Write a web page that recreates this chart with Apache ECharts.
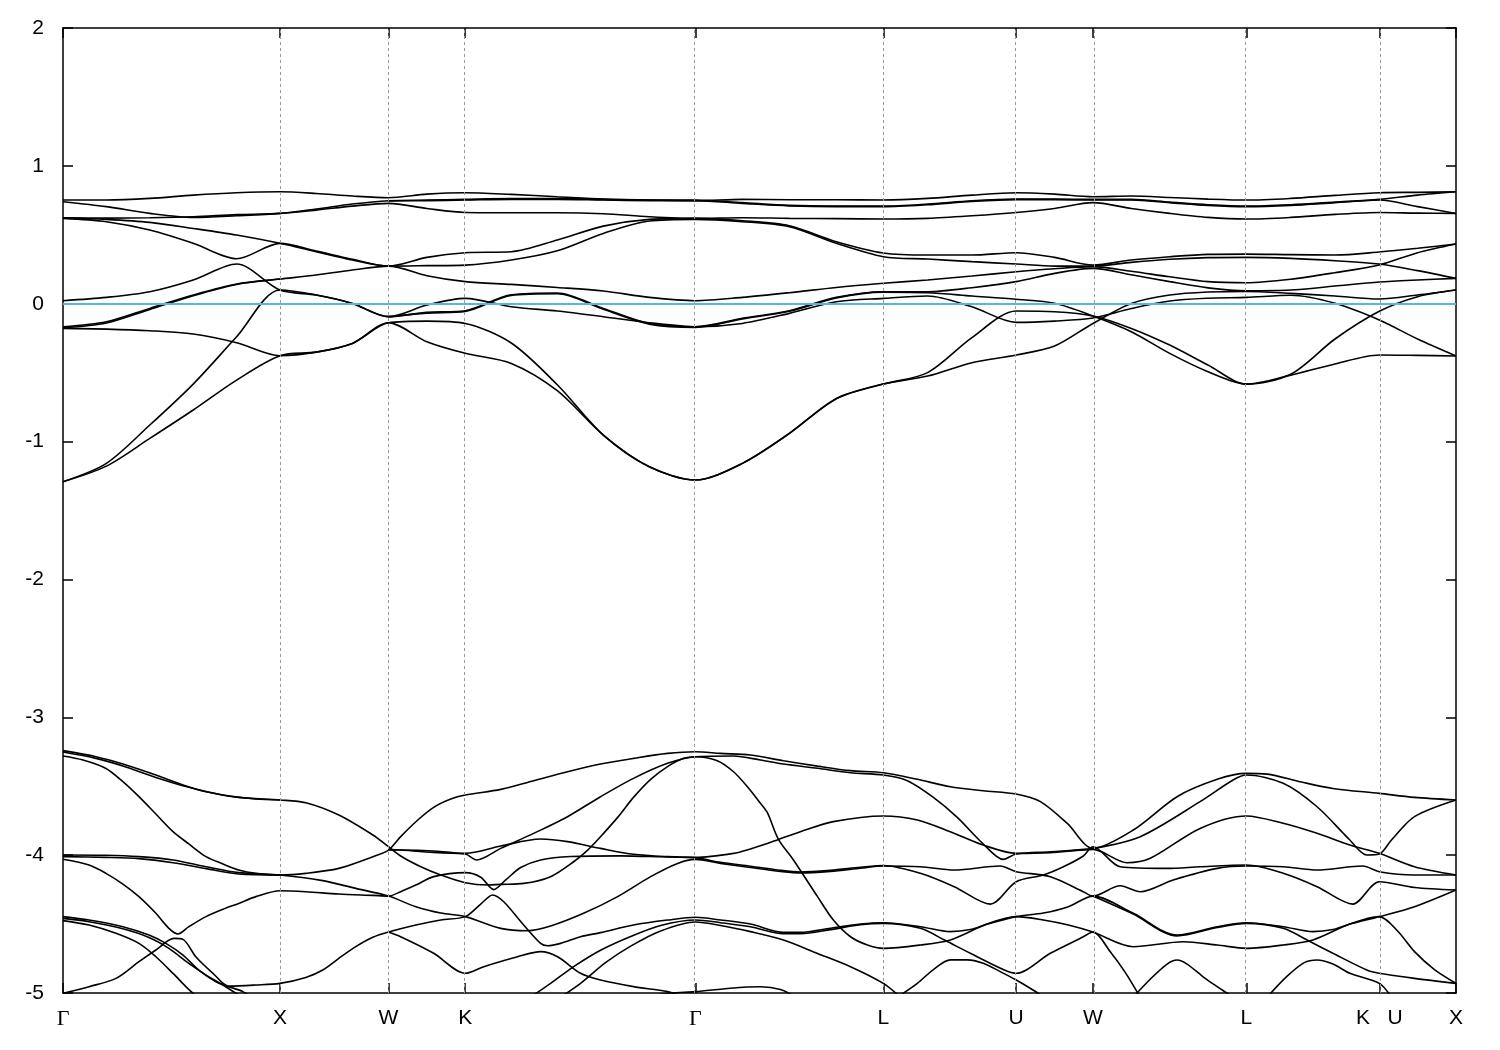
<!DOCTYPE html>
<html><head><meta charset="utf-8">
<script src="https://cdn.jsdelivr.net/npm/echarts@6/dist/echarts.min.js"></script>
<style>html,body{margin:0;padding:0;background:#fff}#c{width:1500px;height:1050px}</style>
</head><body><div id="c"></div>
<script>
// high-symmetry points along the k-path
const kSym = [0, 1, 1.5, 1.8536, 2.9142, 3.7802, 4.3926, 4.7462, 5.4533, 6.0657, 6.4193];
const symLabels = ['Γ', 'X', 'W', 'K', 'Γ', 'L', 'U', 'W', 'L', 'K   U', 'X'];
const yTicks = [-5, -4, -3, -2, -1, 0, 1, 2];
const fermi = 0;

// k-grid used for the bands near the Fermi level
const kGrid = [0,0.2,0.4,0.6,0.8,1,1.1667,1.3333,1.5,1.6768,1.8536,2.0657,2.2778,2.4899,2.7021,2.9142,3.1307,3.3472,3.5637,3.7802,3.9843,4.1885,4.3926,4.5694,4.7462,4.923,5.0998,5.2765,5.4533,5.6574,5.8616,6.0657,6.2425,6.4193];

const U1 = [0.752,0.752,0.764,0.788,0.805,0.812,0.800,0.781,0.769, 0.795,0.805,0.793,0.776,0.759,0.752,0.747, 0.757,0.754,0.754,0.752,0.764,0.788,0.805,0.795,0.776, 0.781,0.771,0.759,0.752,0.764,0.786,0.805,0.808,0.812];
const U2 = [0.740,0.704,0.655,0.626,0.638,0.655,0.687,0.723,0.747, 0.752,0.757,0.762,0.762,0.757,0.752,0.752, 0.733,0.713,0.708,0.708,0.723,0.747,0.759,0.759,0.757, 0.757,0.737,0.718,0.708,0.718,0.737,0.757,0.788,0.812];
const U2b = [null,null,null,null,null,null,null,null,0.745, 0.748,0.752,0.757,0.757,0.752,0.748,0.748, 0.728,0.710,0.704,0.704,0.718,0.742,0.755,0.755,0.752, 0.752,0.733,0.713,0.704,0.713,0.733,0.752,0.704,0.655];
const U3 = [0.624,0.621,0.624,0.631,0.646,0.655,0.679,0.708,0.728, 0.691,0.662,0.660,0.660,0.653,0.631,0.619, 0.624,0.619,0.617,0.614,0.619,0.638,0.662,0.691,0.733, 0.691,0.655,0.626,0.614,0.626,0.648,0.662,0.657,0.655];
const U4 = [0.624,0.612,0.590,0.546,0.498,0.438,0.377,0.317,0.273, 0.336,0.370,0.377,0.462,0.563,0.612,0.619, 0.602,0.566,0.450,0.368,0.353,0.353,0.370,0.336,0.281, 0.317,0.341,0.358,0.360,0.356,0.353,0.375,0.402,0.433];
const U5 = [0.619,0.595,0.534,0.438,0.326,0.438,0.382,0.322,0.273, 0.276,0.280,0.317,0.384,0.510,0.600,0.612, 0.595,0.558,0.438,0.341,0.324,0.305,0.288,0.273,0.273, 0.300,0.322,0.334,0.336,0.329,0.312,0.288,0.240,0.184];
const M1 = [0.022,0.046,0.087,0.172,0.288,0.099,0.063,0.002,-0.094, -0.010,0.039,-0.022,-0.053,-0.094,-0.138,-0.167, -0.143,-0.070,0.014,0.039,0.056,-0.022,-0.135,-0.126,-0.104, -0.035,0.020,0.040,0.046,0.061,0.003,-0.118,-0.256,-0.379];
const M2 = [-1.291,-1.158,-0.880,-0.583,-0.240,0.099,0.063,0.002,-0.094, -0.063,-0.051,0.065,0.078,-0.034,-0.143,-0.167, -0.106,-0.051,0.046,0.087,0.087,0.116,0.160,0.220,0.256, 0.210,0.160,0.115,0.094,0.099,0.128,0.157,0.172,0.184];
const M3 = [-0.167,-0.131,-0.034,0.063,0.143,0.179,0.208,0.244,0.273, 0.203,0.160,0.140,0.118,0.092,0.046,0.022, 0.046,0.080,0.118,0.148,0.172,0.201,0.232,0.254,0.269, 0.235,0.195,0.160,0.152,0.177,0.225,0.281,0.370,0.433];
const M4a = [-0.175,-0.140,-0.042,0.058,0.140,0.179,null,null,null, null,null,null,null,null,null,null, null,null,null,null,null,null,null,null,null, null,null,null,null,null,null,null,null,null];
const M4b = [null,null,null,null,null,null,null,null,-0.094, -0.068,-0.056,0.060,0.072,-0.040,-0.148,-0.172, -0.110,-0.055,0.042,0.084,0.080,0.056,0.032,0.003,-0.089, -0.203,-0.360,-0.493,-0.583,-0.518,-0.437,-0.372,-0.375,-0.379];
const M5 = [-0.179,-0.184,-0.196,-0.220,-0.283,-0.377,-0.351,-0.288,-0.138, -0.126,-0.143,-0.285,-0.588,-0.953,-1.183,-1.279, -1.158,-0.941,-0.687,-0.583,-0.500,-0.246,-0.053,-0.058,-0.089, -0.179,-0.300,-0.445,-0.583,-0.512,-0.256,-0.055,0.051,0.099];
const M6 = [-1.291,-1.178,-0.977,-0.771,-0.554,-0.377,-0.351,-0.288,-0.138, -0.276,-0.360,-0.433,-0.631,-0.953,-1.183,-1.279, -1.158,-0.941,-0.690,-0.583,-0.525,-0.428,-0.372,-0.307,-0.143, 0.002,0.063,0.085,0.089,0.075,0.056,0.034,0.063,0.099];

// lower bands, [k, E] pairs
const B1 = [[0,-3.242],[0.152,-3.286],[0.276,-3.339],[0.428,-3.419],[0.553,-3.491],[0.659,-3.540],[0.810,-3.581],[1,-3.600],[1.119,-3.620],[1.271,-3.709],[1.428,-3.854],[1.5,-3.939],
 [1.556,-4.006],[1.649,-4.084],[1.741,-4.144],[1.8536,-4.200],[1.957,-4.217],[2.017,-4.212],[2.123,-4.205],[2.247,-4.156],[2.353,-4.048],[2.418,-3.963],[2.477,-3.866],[2.556,-3.726],[2.629,-3.581],[2.708,-3.450],[2.786,-3.358],[2.860,-3.298],[2.9142,-3.286],
 [3.015,-3.315],[3.090,-3.395],[3.154,-3.504],[3.214,-3.624],[3.246,-3.692],[3.297,-3.886],[3.366,-4.035],[3.477,-4.301],[3.550,-4.471],[3.629,-4.592],[3.707,-4.652],[3.7802,-4.676],
 [3.951,-4.652],[4.089,-4.615],[4.259,-4.50],[4.3926,-4.446],[4.518,-4.47],[4.633,-4.507],[4.7462,-4.558],
 [4.932,-4.664],[5.162,-4.628],[5.319,-4.652],[5.4533,-4.676],[5.623,-4.652],[5.760,-4.615],[5.930,-4.50],[6.0657,-4.446],[6.150,-4.55],[6.228,-4.70],[6.320,-4.83],[6.4193,-4.930]];
const B2 = [[0,-3.252],[0.152,-3.298],[0.276,-3.353],[0.428,-3.436],[0.580,-3.508],[0.737,-3.564],[0.889,-3.593],[1,-3.600]];
const B3 = [[0,-3.281],[0.092,-3.310],[0.198,-3.371],[0.276,-3.467],[0.350,-3.576],[0.428,-3.702],[0.507,-3.830],[0.580,-3.919],[0.659,-4.011],[0.737,-4.064],[0.810,-4.108],[0.889,-4.132],[1,-4.144],[1.119,-4.132],[1.271,-4.096],[1.428,-4.011],[1.5,-3.963],
 [1.556,-3.866],[1.635,-3.745],[1.708,-3.653],[1.787,-3.593],[1.8536,-3.564],[2.017,-3.523],[2.169,-3.460],[2.325,-3.395],[2.477,-3.339],[2.629,-3.298],[2.786,-3.262],[2.9142,-3.250],
 [3.030,-3.262],[3.168,-3.274],[3.320,-3.315],[3.477,-3.354],[3.629,-3.387],[3.7802,-3.402],[3.937,-3.450],[4.089,-3.504],[4.241,-3.533],[4.3926,-3.557],[4.504,-3.612],[4.628,-3.770],[4.7462,-3.951],
 [4.932,-3.818],[5.134,-3.576],[5.319,-3.450],[5.4533,-3.407],[5.549,-3.412],[5.700,-3.467],[5.852,-3.516],[6.0657,-3.552],[6.228,-3.581],[6.4193,-3.600]];
const B4 = [[1.5,-3.963],[1.556,-3.963],[1.8536,-3.992],[1.906,-4.035],[2.017,-3.951],[2.169,-3.842],[2.325,-3.721],[2.477,-3.576],[2.629,-3.443],[2.786,-3.334],[2.9142,-3.286],
 [3.090,-3.281],[3.214,-3.310],[3.320,-3.339],[3.477,-3.370],[3.629,-3.402],[3.7802,-3.419],[3.891,-3.460],[4.011,-3.581],[4.121,-3.726],[4.241,-3.919],[4.333,-4.031],[4.3926,-3.992],[4.550,-3.975],[4.7462,-3.951],
 [4.964,-3.866],[5.240,-3.612],[5.392,-3.455],[5.4533,-3.419],[5.623,-3.479],[5.779,-3.649],[5.930,-3.890],[6.008,-3.999],[6.0657,-3.992],[6.122,-3.890],[6.228,-3.721],[6.4193,-3.600]];
const B5 = [[1.5,-3.958],[1.556,-3.963],[1.708,-3.980],[1.8536,-3.987],[2.017,-3.934],[2.201,-3.883],[2.325,-3.902],[2.477,-3.951],[2.629,-3.994],[2.786,-4.011],[2.9142,-4.016],
 [3.090,-3.987],[3.168,-3.955],[3.246,-3.915],[3.297,-3.886],[3.398,-3.830],[3.550,-3.757],[3.7802,-3.716],[3.937,-3.745],[4.089,-3.830],[4.241,-3.927],[4.3926,-3.987],[4.550,-3.982],[4.7462,-3.958],
 [4.904,-4.055],[5.010,-4.023],[5.240,-3.806],[5.4533,-3.716],[5.623,-3.769],[5.779,-3.842],[5.930,-3.927],[6.0657,-3.987],[6.228,-4.084],[6.4193,-4.144]];
const B6 = [[0,-3.999],[0.198,-4.001],[0.350,-4.011],[0.507,-4.035],[0.659,-4.084],[0.810,-4.127],[1,-4.144],[1.197,-4.185],[1.349,-4.241],[1.5,-4.297],[1.626,-4.374],[1.741,-4.420],[1.8536,-4.446],
 [2.017,-4.531],[2.141,-4.548],[2.247,-4.514],[2.399,-4.422],[2.556,-4.301],[2.708,-4.156],[2.832,-4.060],[2.9142,-4.031],
 [3.030,-4.060],[3.168,-4.090],[3.306,-4.118],[3.398,-4.130],[3.537,-4.118],[3.675,-4.095],[3.7802,-4.079],
 [3.951,-4.084],[4.107,-4.108],[4.319,-4.079],[4.3926,-4.120],[4.550,-4.156],[4.702,-4.265],[4.7462,-4.297],
 [4.872,-4.222],[4.964,-4.265],[5.116,-4.180],[5.319,-4.096],[5.4533,-4.079],[5.623,-4.084],[5.779,-4.108],[5.990,-4.079],[6.0657,-4.120],[6.228,-4.144],[6.4193,-4.144]];
const B7 = [[0,-4.011],[0.198,-4.016],[0.350,-4.025],[0.507,-4.055],[0.659,-4.098],[0.810,-4.137],[1,-4.144]];
const B8 = [[0,-4.030],[0.120,-4.072],[0.198,-4.132],[0.276,-4.210],[0.350,-4.301],[0.428,-4.422],[0.488,-4.531],[0.530,-4.572],[0.580,-4.519],[0.659,-4.446],[0.737,-4.393],[0.810,-4.350],[0.889,-4.301],[1,-4.258],[1.119,-4.265],[1.271,-4.282],[1.428,-4.292],[1.5,-4.297],
 [1.556,-4.265],[1.626,-4.217],[1.708,-4.156],[1.8536,-4.127],[1.925,-4.160],[1.985,-4.250],[2.040,-4.180],[2.109,-4.090],[2.201,-4.035],[2.339,-4.010],[2.569,-4.005],[2.754,-4.012],[2.9142,-4.020],
 [3.030,-4.052],[3.168,-4.080],[3.306,-4.110],[3.398,-4.122],[3.537,-4.110],[3.675,-4.088],[3.7802,-4.075],
 [3.951,-4.132],[4.107,-4.229],[4.273,-4.355],[4.3926,-4.193],[4.518,-4.144],[4.610,-4.084],[4.702,-4.006],[4.7462,-3.939],
 [4.872,-4.084],[5.088,-4.096],[5.240,-4.084],[5.4533,-4.072],[5.623,-4.132],[5.779,-4.229],[5.944,-4.355],[6.0657,-4.193],[6.228,-4.235],[6.4193,-4.253]];
const B9 = [[0,-4.446],[0.120,-4.471],[0.276,-4.519],[0.396,-4.580],[0.474,-4.640],[0.553,-4.725],[0.626,-4.834],[0.705,-4.918],[0.764,-4.954],[0.829,-4.990],[0.866,-5.03]];
const B10 = [[0,-4.459],[0.120,-4.483],[0.276,-4.534],[0.396,-4.597],[0.488,-4.676],[0.580,-4.785],[0.659,-4.870],[0.737,-4.942],[0.797,-5.002],[0.843,-5.04]];
const B11 = [[0,-4.475],[0.120,-4.507],[0.244,-4.567],[0.350,-4.640],[0.428,-4.737],[0.507,-4.858],[0.566,-4.954],[0.599,-5.002],[0.626,-5.04]];
const B12 = [[0,-5.002],[0.120,-4.954],[0.244,-4.894],[0.350,-4.773],[0.428,-4.688],[0.511,-4.604],[0.553,-4.611],[0.612,-4.737],[0.691,-4.857],[0.764,-4.950],[0.889,-4.942],[1,-4.930],[1.119,-4.887],[1.197,-4.833],[1.271,-4.749],[1.349,-4.664],[1.428,-4.596],[1.5,-4.558],
 [1.626,-4.507],[1.741,-4.47],[1.8536,-4.446],[1.925,-4.355],[1.980,-4.289],[2.031,-4.338],[2.123,-4.507],[2.201,-4.640],[2.233,-4.657],[2.293,-4.640],[2.385,-4.592],[2.477,-4.562],[2.629,-4.507],[2.786,-4.471],[2.9142,-4.451],
 [3.030,-4.470],[3.168,-4.500],[3.320,-4.560],[3.398,-4.560],[3.537,-4.530],[3.675,-4.500],[3.7802,-4.490],
 [3.951,-4.519],[4.089,-4.555],[4.181,-4.540],[4.259,-4.50],[4.3926,-4.446],[4.518,-4.420],[4.633,-4.374],[4.7462,-4.297],
 [4.932,-4.422],[5.134,-4.580],[5.319,-4.519],[5.4533,-4.490],[5.623,-4.519],[5.760,-4.555],[5.852,-4.540],[5.930,-4.50],[6.0657,-4.446],[6.228,-4.374],[6.4193,-4.253]];
const B13 = [[1.5,-4.558],[1.556,-4.592],[1.708,-4.712],[1.8536,-4.857],[1.939,-4.809],[2.095,-4.737],[2.201,-4.700],[2.279,-4.737],[2.385,-4.857],[2.477,-4.906],[2.629,-4.954],[2.786,-4.99],[2.860,-5.03]];
const B15 = [[2.155,-5.03],[2.247,-4.93],[2.362,-4.80],[2.477,-4.69],[2.616,-4.59],[2.754,-4.51],[2.9142,-4.47],
 [3.030,-4.490],[3.168,-4.520],[3.320,-4.570],[3.398,-4.570],[3.537,-4.540],[3.675,-4.505],[3.7802,-4.495],
 [3.951,-4.531],[4.062,-4.616],[4.181,-4.712],[4.338,-4.833],[4.3926,-4.857],[4.550,-4.712],[4.702,-4.592],[4.7462,-4.558],
 [4.826,-4.70],[4.895,-4.85],[4.964,-5.03]];
const B16 = [[2.293,-5.03],[2.385,-4.93],[2.500,-4.78],[2.616,-4.66],[2.754,-4.55],[2.9142,-4.485],[3.030,-4.51],[3.168,-4.555],[3.320,-4.616],[3.477,-4.713],[3.629,-4.809],[3.7802,-4.930],[3.859,-5.03]];
const B17 = [[2.662,-5.03],[2.800,-5.0],[2.9142,-4.99],[3.076,-4.965],[3.214,-4.955],[3.306,-4.975],[3.375,-5.03]];
const B18 = [[4.7462,-4.297],[4.932,-4.428],[5.134,-4.586],[5.319,-4.525],[5.4533,-4.495],[5.623,-4.531],[5.733,-4.616],[5.852,-4.712],[6.008,-4.833],[6.0657,-4.857],[6.228,-4.894],[6.4193,-4.930]];
const B19 = [[3.845,-5.03],[3.937,-4.93],[4.011,-4.83],[4.089,-4.76],[4.167,-4.76],[4.241,-4.785],[4.319,-4.845],[4.3926,-4.906],[4.472,-4.98],[4.52,-5.03]];
const B20 = [[4.932,-5.03],[5.010,-4.90],[5.088,-4.79],[5.134,-4.761],[5.180,-4.79],[5.260,-4.89],[5.319,-4.954],[5.392,-5.03]];
const B21 = [[5.549,-5.03],[5.640,-4.88],[5.720,-4.78],[5.779,-4.761],[5.852,-4.79],[5.930,-4.857],[6.0657,-4.930],[6.122,-5.03]];

const gridBands = [U1, U2, U2b, U3, U4, U5, M1, M2, M3, M4a, M4b, M5, M6];
const pieceBands = [B1, B2, B3, B4, B5, B6, B7, B8, B9, B10, B11, B12, B13, B15, B16, B17, B18, B19, B20, B21];

const chart = echarts.init(document.getElementById('c'), null, {renderer: 'canvas'});
function bandSeries(data) {
  return {type: 'line', data: data, symbol: 'none', showSymbol: false, smooth: 0.3,
    lineStyle: {color: '#000', width: 1.6}, silent: true, clip: true, z: 3};
}
const series = [];
gridBands.forEach(v => series.push(bandSeries(kGrid.map((k, i) => [k, v[i]]).filter(p => p[1] !== null))));
pieceBands.forEach(p => series.push(bandSeries(p)));
series.push({type: 'line', data: [[0, fermi]], symbol: 'none', lineStyle: {opacity: 0}, silent: true, z: 1,
  markLine: {silent: true, symbol: 'none', label: {show: false}, animation: false,
    lineStyle: {color: '#9a9a9a', type: [3, 3], width: 1},
    data: kSym.slice(1, -1).map(k => ({xAxis: k}))}});
series.push({type: 'line', data: [[0, fermi]], symbol: 'none', lineStyle: {opacity: 0}, silent: true, z: 5,
  markLine: {silent: true, symbol: 'none', label: {show: false}, animation: false,
    lineStyle: {color: '#56b4e9', type: 'solid', width: 2},
    data: [{yAxis: fermi}]}});

const axisLineStyle = {color: '#000', width: 1.5};
const labelFont = 'Liberation Sans, Arial, Helvetica, sans-serif';
const option = {
  animation: false,
  backgroundColor: '#fff',
  grid: {left: 63, right: 44, top: 28, bottom: 57, containLabel: false},
  xAxis: [{
    type: 'value', min: 0, max: kSym[kSym.length - 1], position: 'bottom',
    axisLine: {show: true, onZero: false, lineStyle: axisLineStyle},
    axisTick: {show: true, inside: true, length: 10, customValues: kSym, lineStyle: axisLineStyle},
    axisLabel: {show: true, customValues: kSym, margin: 15, fontSize: 21, color: '#000', fontFamily: labelFont,
      showMinLabel: true, showMaxLabel: true,
      formatter: function (v) {
        const i = kSym.findIndex(k => Math.abs(k - v) < 1e-6);
        if (i < 0) return '';
        return symLabels[i] === 'Γ' ? '{g|Γ}' : symLabels[i];
      },
      rich: {g: {fontFamily: 'Liberation Serif, DejaVu Serif, serif', fontSize: 22, color: '#000'}}},
    splitLine: {show: false}
  }, {
    type: 'value', min: 0, max: kSym[kSym.length - 1], position: 'top',
    axisLine: {show: true, onZero: false, lineStyle: axisLineStyle},
    axisTick: {show: true, inside: true, length: 10, customValues: kSym, lineStyle: axisLineStyle},
    axisLabel: {show: false}, splitLine: {show: false}
  }],
  yAxis: [{
    type: 'value', min: yTicks[0], max: yTicks[yTicks.length - 1], interval: 1, position: 'left',
    axisLine: {show: true, onZero: false, lineStyle: axisLineStyle},
    axisTick: {show: true, inside: true, length: 10, lineStyle: axisLineStyle},
    axisLabel: {show: true, margin: 19, fontSize: 21, color: '#000', fontFamily: labelFont},
    splitLine: {show: false}
  }, {
    type: 'value', min: yTicks[0], max: yTicks[yTicks.length - 1], interval: 1, position: 'right',
    axisLine: {show: true, onZero: false, lineStyle: axisLineStyle},
    axisTick: {show: true, inside: true, length: 10, lineStyle: axisLineStyle},
    axisLabel: {show: false}, splitLine: {show: false}
  }],
  series: series
};
chart.setOption(option);
</script>
</body></html>
